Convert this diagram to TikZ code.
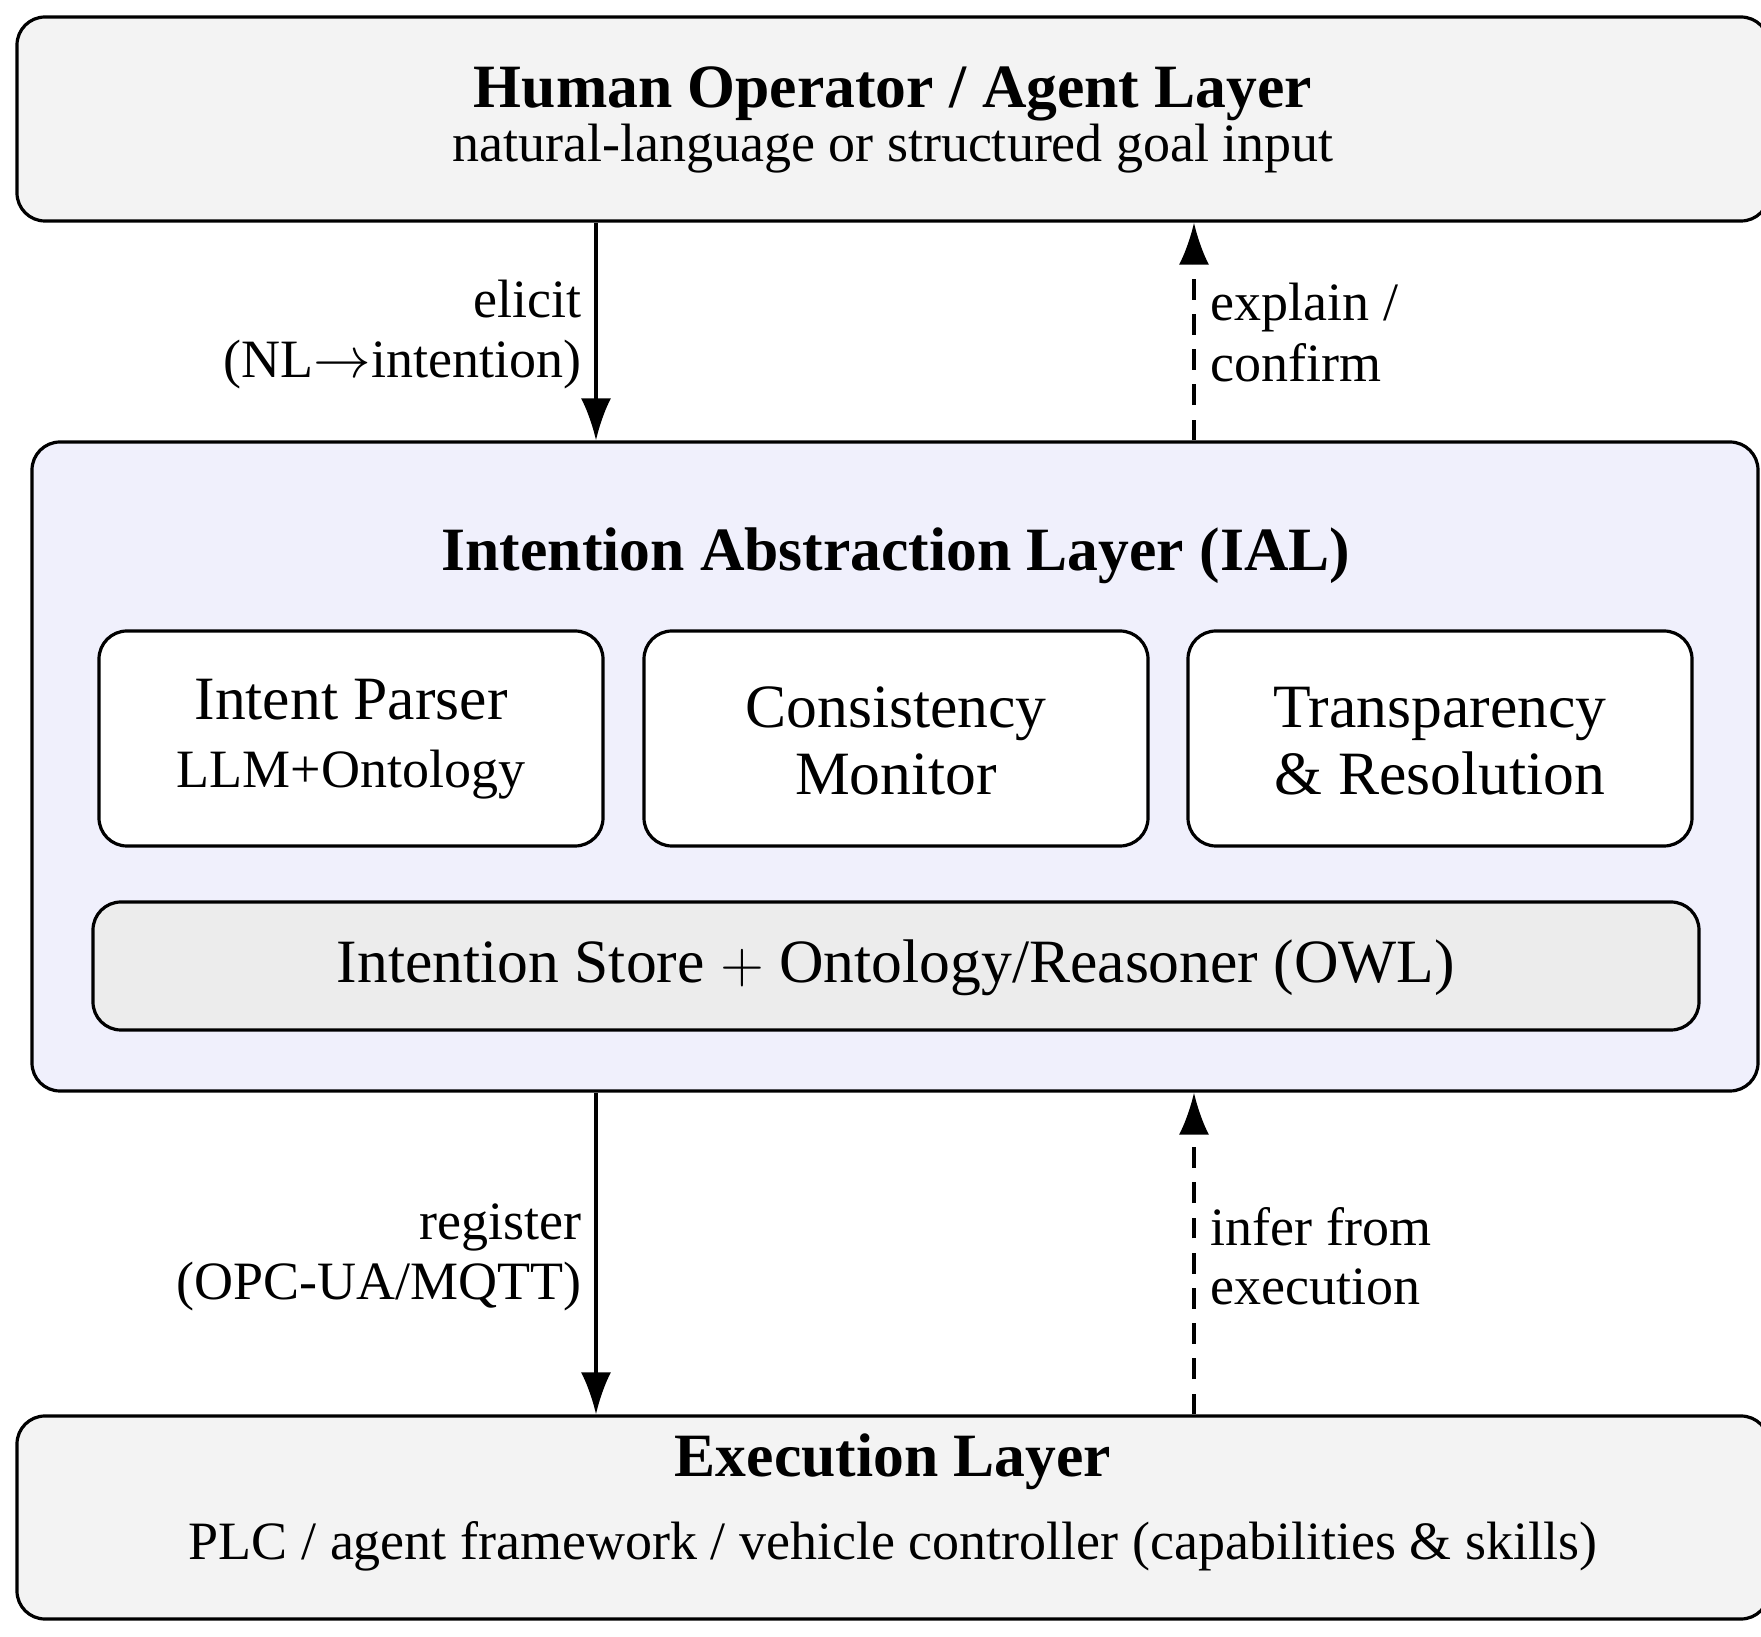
\documentclass[tikz,border=0pt]{standalone}
\usepackage{fontspec}
\setmainfont{Liberation Serif}
\usetikzlibrary{arrows.meta}
\definecolor{layergray}{HTML}{F3F3F3}
\definecolor{ialblue}{HTML}{F0F0FC}
\definecolor{storegray}{HTML}{ECECEC}
\tikzset{
  box/.style={draw, line width=0.8pt, rounded corners=7pt, inner sep=0pt},
  txt/.style={inner sep=0pt, anchor=base},
  big/.style={font=\fontsize{15.4}{18}\selectfont},
  bigb/.style={font=\fontsize{15.4}{18}\selectfont\bfseries},
  small/.style={font=\fontsize{13.5}{16}\selectfont},
  arr/.style={line width=0.8pt, -{Latex[length=10.5pt,width=7.5pt]}},
  darr/.style={arr, dash pattern=on 5.2pt off 3.6pt},
}
\begin{document}
\begin{tikzpicture}[x=0.25pt,y=-0.25pt]
\useasboundingbox (0,0) rectangle (1761,1637);
% layers
\node[box, fill=layergray, minimum width=438pt, minimum height=51pt] (top) at (893,119) {};
\node[box, fill=ialblue, minimum width=431.5pt, minimum height=162.25pt] (ial) at (895,766.5) {};
\node[box, fill=layergray, minimum width=438pt, minimum height=50.75pt] (exec) at (893,1517.5) {};
% inner modules
\node[box, fill=white, minimum width=126pt, minimum height=53.75pt] (parser) at (351,738.5) {};
\node[box, fill=white, minimum width=126pt, minimum height=53.75pt] (cons) at (896,738.5) {};
\node[box, fill=white, minimum width=126pt, minimum height=53.75pt] (trans) at (1440,738.5) {};
\node[box, fill=storegray, minimum width=401.5pt, minimum height=32pt] (store) at (896,966) {};
% texts
\node[txt, bigb] (toptitle) at (893,108) {Human Operator / Agent Layer};
\node[txt, small] (topsub) at (893,162) {natural-language or structured goal input};
\node[txt, bigb] (ialtitle) at (896,571) {Intention Abstraction Layer (IAL)};
\node[txt, big] (parser1) at (351,720) {Intent Parser};
\node[txt, small] (parser2) at (351,788) {LLM+Ontology};
\node[txt, big] (cons1) at (896,728) {Consistency};
\node[txt, big] (cons2) at (896,795) {Monitor};
\node[txt, big] (trans1) at (1440,728) {Transparency};
\node[txt, big] (trans2) at (1440,795) {\& Resolution};
\node[txt, big] (storetxt) at (896,983) {Intention Store $+$ Ontology/Reasoner (OWL)};
\node[txt, bigb] (exectitle) at (893,1477) {Execution Layer};
\node[txt, small] (execsub) at (893,1560) {PLC / agent framework / vehicle controller (capabilities \& skills)};
% connectors
\coordinate (xl) at (596,0);
\coordinate (xr) at (1194,0);
\draw[arr] (top.south -| xl) -- (ial.north -| xl);
\draw[darr] (ial.north -| xr) -- (top.south -| xr);
\draw[arr] (ial.south -| xl) -- (exec.north -| xl);
\draw[darr] (exec.north -| xr) -- (ial.south -| xr);
% connector labels
\node[txt, small, anchor=base east] (el1) at (582,318) {elicit};
\node[txt, small, anchor=base east] (el2) at (582,378) {(NL$\rightarrow$intention)};
\node[txt, small, anchor=base west] (ex1) at (1210,321) {explain /};
\node[txt, small, anchor=base west] (ex2) at (1210,382) {confirm};
\node[txt, small, anchor=base east] (re1) at (582,1240) {register};
\node[txt, small, anchor=base east] (re2) at (582,1300) {(OPC-UA/MQTT)};
\node[txt, small, anchor=base west] (in1) at (1210,1246) {infer from};
\node[txt, small, anchor=base west] (in2) at (1210,1305) {execution};
\end{tikzpicture}
\end{document}
